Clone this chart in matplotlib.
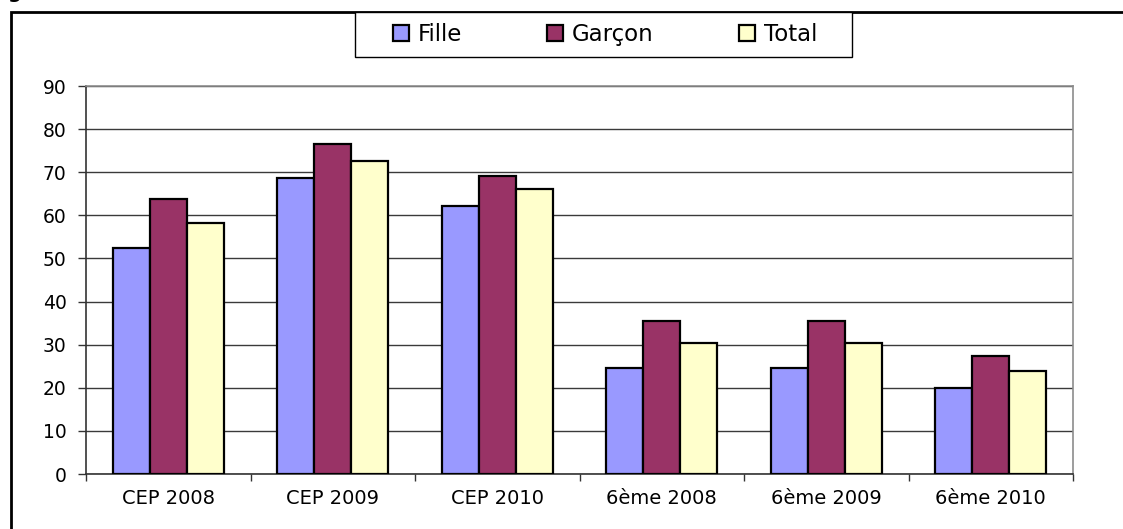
import numpy as np
import matplotlib.pyplot as plt
from matplotlib.patches import Rectangle

categories = ["CEP 2008", "CEP 2009", "CEP 2010", "6ème 2008", "6ème 2009", "6ème 2010"]
fille = [52.5, 68.7, 62.2, 24.6, 24.6, 19.9]
garcon = [63.7, 76.5, 69.2, 35.4, 35.4, 27.3]
total = [58.2, 72.6, 66.0, 30.4, 30.4, 23.9]

series = [
    ("Fille", fille, "#9999FF"),
    ("Garçon", garcon, "#993366"),
    ("Total", total, "#FFFFCC"),
]

plt.rcParams["font.family"] = ["DejaVu Sans"]

W, H = 1123, 529
fig = plt.figure(figsize=(W / 100, H / 100), dpi=100)
ax = fig.add_axes([86 / W, 1 - 474 / H, (1073 - 86) / W, (474 - 86) / H])

x = np.arange(len(categories))
width = 0.225
for i, (name, vals, color) in enumerate(series):
    ax.bar(x + (i - 1) * width, vals, width, color=color, edgecolor="black",
           linewidth=1.6, label=name, zorder=3)

ax.set_xlim(-0.5, len(categories) - 0.5)
ax.set_ylim(0, 90)
ax.set_yticks(range(0, 91, 10))
ax.yaxis.grid(True, color="#3a3a3a", linewidth=1.0, zorder=0)
ax.set_axisbelow(True)

ax.set_xticks(x)
ax.set_xticklabels(categories, fontsize=14)
ax.set_xticks(np.arange(-0.5, len(categories), 1), minor=True)
ax.tick_params(axis="x", which="major", length=0, pad=11)
ax.tick_params(axis="x", which="minor", length=5, width=1, color="#333333")
ax.tick_params(axis="y", length=6, width=1, color="#333333", labelsize=13.5, pad=8)

for side in ["top", "right"]:
    ax.spines[side].set_color("#8c8c8c")
    ax.spines[side].set_linewidth(1.2)
for side in ["left", "bottom"]:
    ax.spines[side].set_color("#333333")
    ax.spines[side].set_linewidth(1.2)

# outer chart frame (extends past the right and bottom edges)
fig.patches.append(Rectangle((11 / W, -0.1), 1.2, 1.1 - 12 / H, transform=fig.transFigure,
                             fill=False, edgecolor="black", linewidth=2.0))

# legend box
fig.patches.append(Rectangle((355 / W, 1 - 57 / H), (852 - 355) / W, 45 / H,
                             transform=fig.transFigure, facecolor="white",
                             edgecolor="black", linewidth=1.0, zorder=5))
fig.legend(loc="center", bbox_to_anchor=(605 / W, 1 - 34.5 / H), ncol=3, frameon=False,
           fontsize=16.5, handlelength=0.7, handleheight=0.7, handletextpad=0.4,
           columnspacing=3.7)

# clipped title remnant at top-left
fig.text(7 / W, 1 + 2 / H, "g", fontsize=14, fontweight="bold", va="baseline")

fig.savefig("out.png", dpi=100)
